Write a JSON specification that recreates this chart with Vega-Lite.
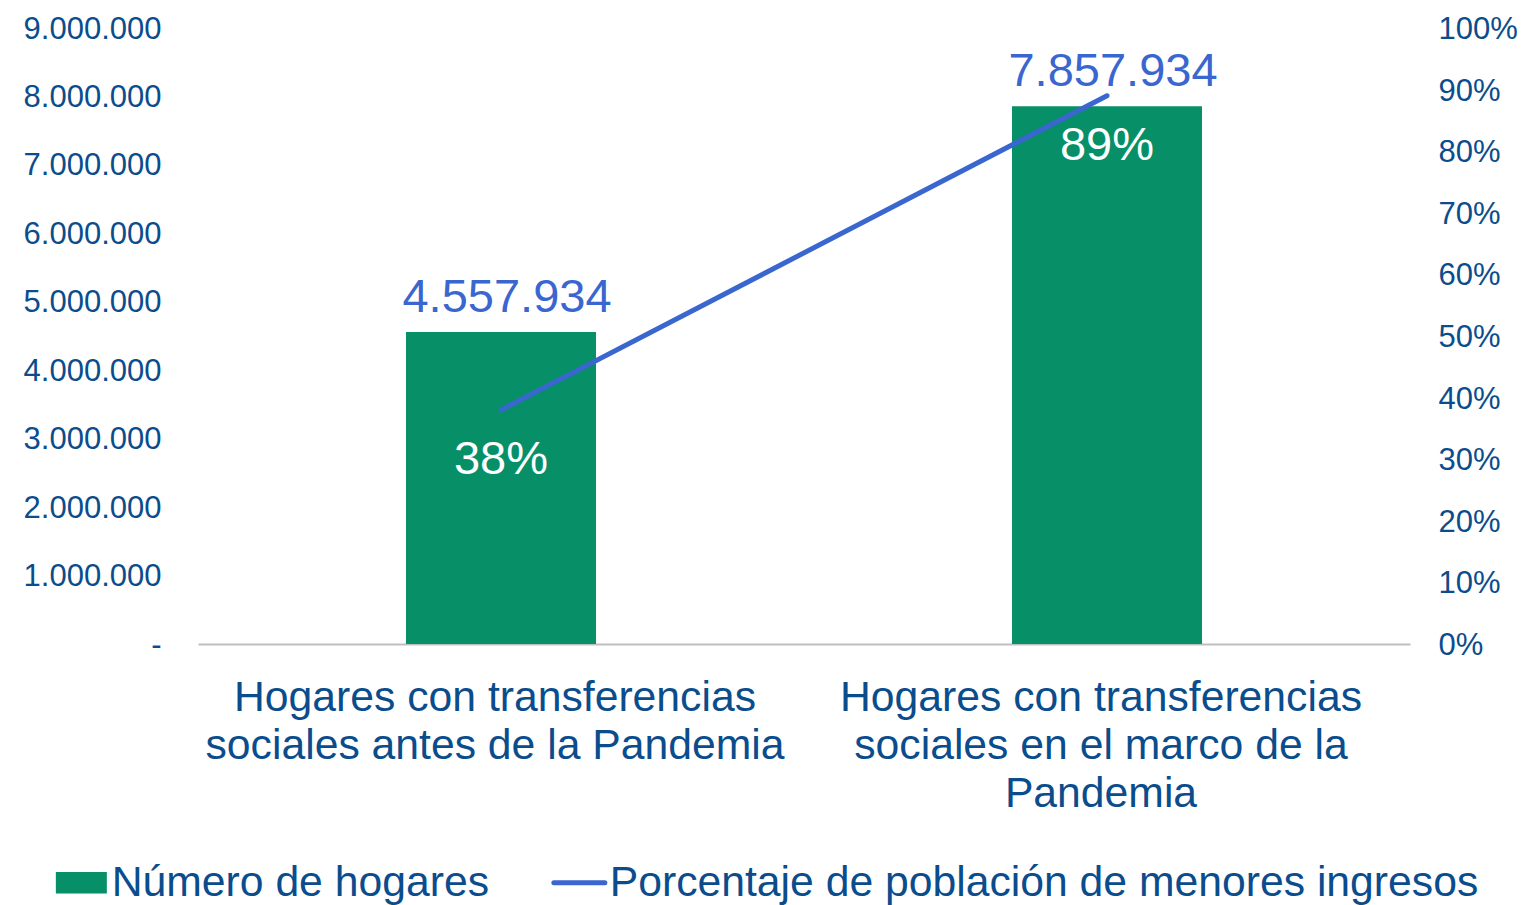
{
  "$schema": "https://vega.github.io/schema/vega-lite/v6.json",
  "width": 1212,
  "height": 616,
  "autosize": {"type": "none"},
  "padding": {"left": 198, "top": 28, "right": 115, "bottom": 261},
  "background": "white",
  "config": {
    "locale": {"number": {"decimal": ",", "thousands": ".", "grouping": [3], "currency": ["$", ""]}},
    "view": {"stroke": null},
    "font": "Liberation Sans"
  },
  "data": {
    "values": [
      {"cat": "Hogares con transferencias sociales antes de la Pandemia", "hogares": 4557934, "pct": 0.38},
      {"cat": "Hogares con transferencias sociales en el marco de la Pandemia", "hogares": 7857934, "pct": 0.89}
    ]
  },
  "encoding": {
    "x": {
      "field": "cat",
      "type": "nominal",
      "sort": null,
      "scale": {"paddingInner": 0, "paddingOuter": 0},
      "axis": {
        "title": null,
        "labelAngle": 0,
        "labelExpr": "indexof(datum.value, 'antes') >= 0 ? ['Hogares con transferencias', 'sociales antes de la Pandemia'] : ['Hogares con transferencias', 'sociales en el marco de la', 'Pandemia']",
        "labelFont": "Liberation Sans",
        "labelFontSize": 42.7,
        "labelColor": "#0B4D8C",
        "labelLineHeight": 48,
        "labelBaseline": "top",
        "labelPadding": 32,
        "labelOffset": -6,
        "labelLimit": 0,
        "ticks": false,
        "grid": false,
        "domainColor": "#BFBFBF",
        "domainWidth": 2
      }
    }
  },
  "layer": [
    {
      "encoding": {
        "y": {
          "field": "hogares",
          "type": "quantitative",
          "scale": {"domain": [0, 9000000], "nice": false},
          "axis": {
            "title": null,
            "values": [0, 1000000, 2000000, 3000000, 4000000, 5000000, 6000000, 7000000, 8000000, 9000000],
            "labelExpr": "datum.value === 0 ? '-' : format(datum.value, ',')",
            "labelFont": "Liberation Sans",
            "labelFontSize": 31,
            "labelColor": "#0B4D8C",
            "labelPadding": 37,
            "labelOffset": 1,
            "ticks": false,
            "domain": false,
            "grid": false
          }
        }
      },
      "layer": [
        {
          "mark": {"type": "bar", "width": {"band": 0.3135}},
          "encoding": {
            "color": {
              "datum": "Número de hogares",
              "type": "nominal",
              "scale": {
                "domain": ["Número de hogares", "Porcentaje de población de menores ingresos"],
                "range": ["#078F67", "#3A66CF"]
              },
              "legend": {
                "title": null,
                "orient": "none",
                "legendX": -138,
                "legendY": 833,
                "direction": "horizontal",
                "symbolSize": 2601,
                "labelFont": "Liberation Sans",
                "labelFontSize": 42.7,
                "labelColor": "#0B4D8C",
                "labelOffset": 9,
                "labelLimit": 0,
                "columnPadding": 54,
                "encode": {
                  "symbols": {
                    "update": {
                      "shape": {"signal": "datum.value === 'Número de hogares' ? 'M-1,-0.42H1V0.42H-1Z' : 'M-1,0H1'"},
                      "fill": {"signal": "datum.value === 'Número de hogares' ? '#078F67' : 'transparent'"},
                      "stroke": {"signal": "datum.value === 'Número de hogares' ? 'transparent' : '#3A66CF'"},
                      "strokeWidth": {"signal": "datum.value === 'Número de hogares' ? 0 : 5"},
                      "strokeCap": {"value": "round"},
                      "opacity": {"value": 1}
                    }
                  }
                }
              }
            }
          }
        },
        {
          "mark": {"type": "text", "baseline": "alphabetic", "align": "center", "dy": -20.5, "dx": 6, "fontSize": 47, "font": "Liberation Sans", "color": "#3A66CF"},
          "encoding": {
            "text": {"field": "hogares", "type": "quantitative", "format": ","}
          }
        }
      ]
    },
    {
      "encoding": {
        "y": {
          "field": "pct",
          "type": "quantitative",
          "scale": {"domain": [0, 1], "nice": false},
          "axis": {
            "title": null,
            "orient": "right",
            "values": [0, 0.1, 0.2, 0.3, 0.4, 0.5, 0.6, 0.7, 0.8, 0.9, 1],
            "format": ".0%",
            "labelFont": "Liberation Sans",
            "labelFontSize": 31,
            "labelColor": "#0B4D8C",
            "labelPadding": 28,
            "labelOffset": 1.5,
            "ticks": false,
            "domain": false,
            "grid": false
          }
        }
      },
      "layer": [
        {
          "mark": {"type": "line", "strokeWidth": 5, "strokeCap": "round"},
          "encoding": {
            "color": {"datum": "Porcentaje de población de menores ingresos", "type": "nominal"}
          }
        },
        {
          "mark": {"type": "text", "baseline": "alphabetic", "align": "center", "dy": 64.5, "fontSize": 47, "font": "Liberation Sans", "color": "white"},
          "encoding": {
            "text": {"field": "pct", "type": "quantitative", "format": ".0%"}
          }
        }
      ]
    }
  ],
  "resolve": {"scale": {"y": "independent"}}
}
